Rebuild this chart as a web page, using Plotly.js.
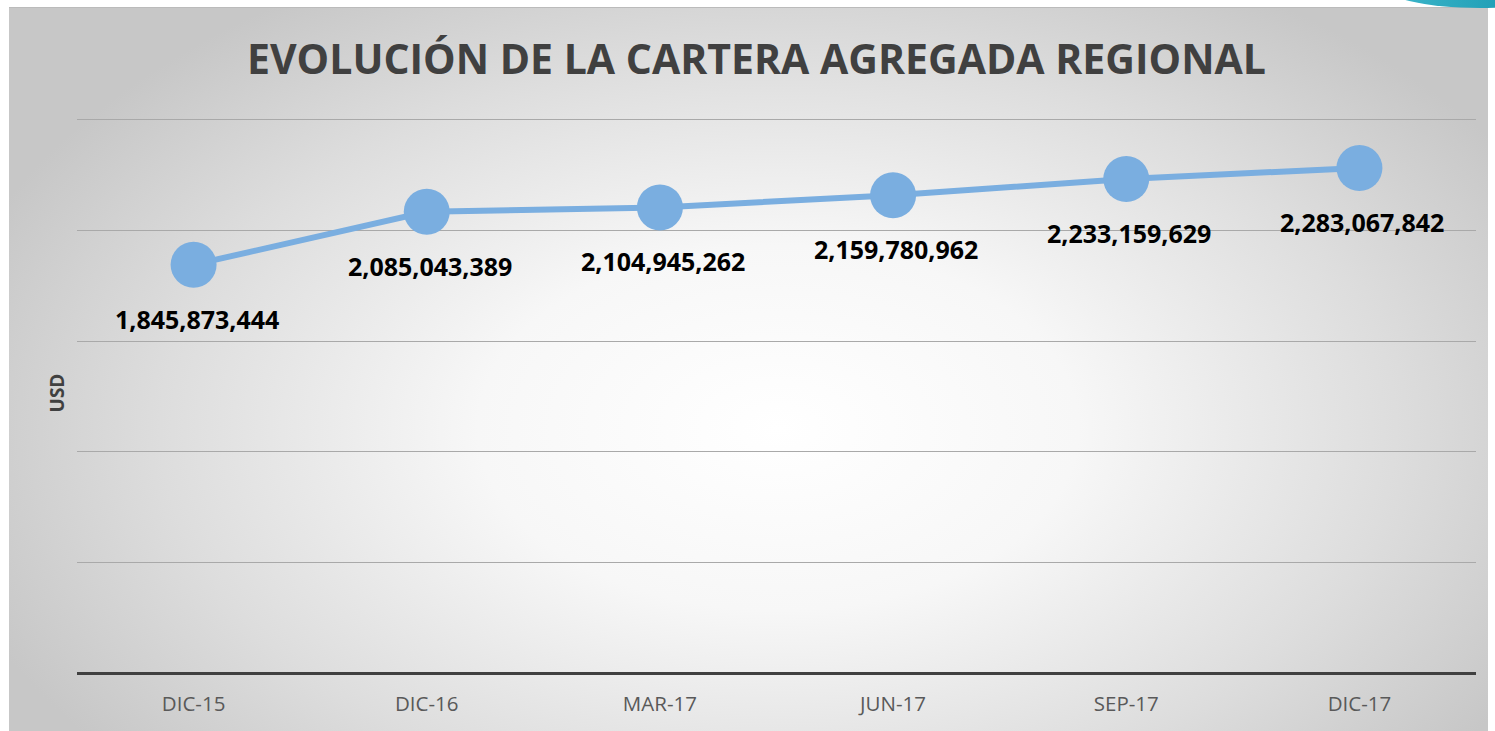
<!DOCTYPE html>
<html>
<head>
<meta charset="utf-8">
<script src="https://cdn.plot.ly/plotly-3.0.1.min.js"></script>
<style>
  html, body { margin: 0; padding: 0; background: #ffffff; }
  #wrap { position: relative; width: 1495px; height: 731px; overflow: hidden; background: #ffffff; }
  #bg { position: absolute; left: 9px; top: 7px; width: 1479px; height: 724px;
        background: radial-gradient(ellipse 58% 72% at 52% 58%, #ffffff 0%, #f7f7f7 35%, #dddddd 72%, #c7c7c7 100%);
        border-top: 1px solid #bbbbbb; }
  #swoosh { position: absolute; left: 1380px; top: -40px; width: 200px; height: 48px; border-radius: 50%;
        background: linear-gradient(90deg, #3fb8cc, #0c8fa8); }
  #chart { position: absolute; left: 0; top: 0; width: 1495px; height: 731px; }
</style>
</head>
<body>
<div id="wrap">
  <div id="bg"></div>
  <div id="swoosh"></div>
  <div id="chart"></div>
</div>
<script>
const categories = ["DIC-15", "DIC-16", "MAR-17", "JUN-17", "SEP-17", "DIC-17"];
const values = [1845873444, 2085043389, 2104945262, 2159780962, 2233159629, 2283067842];
const labels = ["1,845,873,444", "2,085,043,389", "2,104,945,262", "2,159,780,962", "2,233,159,629", "2,283,067,842"];

const trace = {
  x: categories,
  y: values,
  type: "scatter",
  mode: "lines+markers",
  line: { color: "#7aaee0", width: 6 },
  marker: { color: "#7aaee0", size: 46 },
  hoverinfo: "skip"
};

const annotations = categories.map((c, i) => ({
  x: c, y: values[i], xref: "x", yref: "y",
  text: "<b>" + labels[i] + "</b>",
  showarrow: false,
  yshift: -54, xshift: 3,
  font: { family: "Open Sans, sans-serif", size: 25, color: "#000000" }
}));

const layout = {
  width: 1495, height: 731,
  paper_bgcolor: "rgba(0,0,0,0)",
  plot_bgcolor: "rgba(0,0,0,0)",
  margin: { l: 77, r: 19, t: 113, b: 58 },
  showlegend: false,
  title: {
    text: "<b>EVOLUCIÓN DE LA CARTERA AGREGADA REGIONAL</b>",
    x: 0.506, xanchor: "center",
    y: 0.918, yanchor: "middle",
    font: { family: "Open Sans, sans-serif", size: 41, color: "#404040" }
  },
  xaxis: {
    type: "category",
    range: [-0.5, 5.5],
    showgrid: false,
    zeroline: false,
    showline: false,
    ticks: "",
    tickfont: { family: "Open Sans, sans-serif", size: 20.5, color: "#595959" },
    ticklabelstandoff: 16
  },
  yaxis: {
    range: [0, 2531600000],
    dtick: 500000000,
    tick0: 0,
    showticklabels: false,
    ticks: "",
    showgrid: true,
    gridcolor: "#a9a9a9",
    gridwidth: 1,
    zeroline: true,
    zerolinecolor: "#404040",
    zerolinewidth: 3,
    showline: false,
    title: {
      text: "<b>USD</b>",
      standoff: 6,
      font: { family: "Open Sans, sans-serif", size: 19, color: "#404040" }
    }
  },
  annotations: annotations
};

Plotly.newPlot("chart", [trace], layout, { displayModeBar: false, staticPlot: true });
</script>
</body>
</html>
